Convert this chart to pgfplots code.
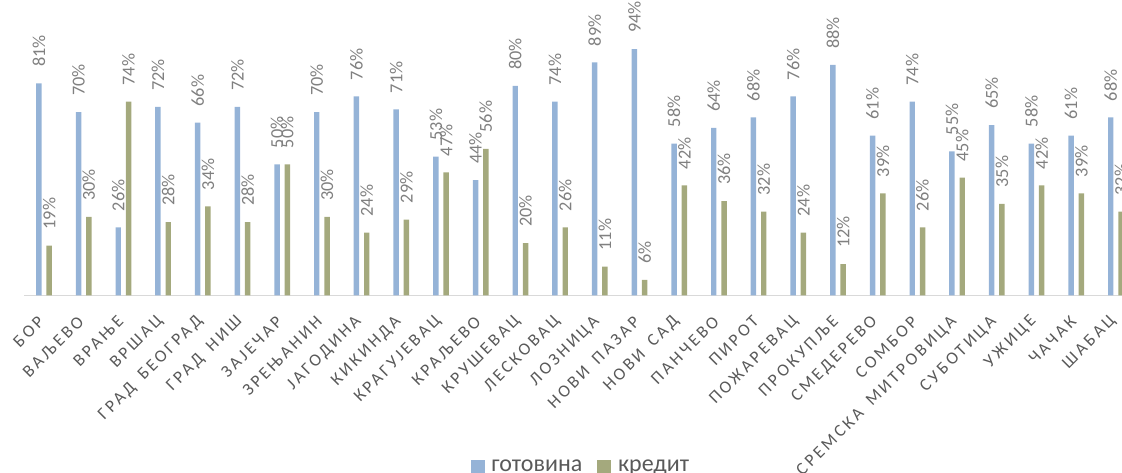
\documentclass[border=0pt]{standalone}
\usepackage{pgfplots}
\usepackage{pgfplotstable}
\pgfplotsset{compat=1.18}
\usepackage{fontspec}
\setmainfont{Carlito}
\newfontfamily\catfont[LetterSpace=17]{Carlito}
\newcommand\wsp{\hspace{8pt}}
\definecolor{bluebar}{HTML}{95B3D7}
\definecolor{greenbar}{HTML}{A4A97D}
\definecolor{labgray}{HTML}{808080}
\definecolor{catgray}{HTML}{595959}
\definecolor{axgray}{HTML}{D9D9D9}
\pgfplotstableread{
x g k
0 81 19
1 70 30
2 26 74
3 72 28
4 66 34
5 72 28
6 50 50
7 70 30
8 76 24
9 71 29
10 53 47
11 44 56
12 80 20
13 74 26
14 89 11
15 94 6
16 58 42
17 64 36
18 68 32
19 76 24
20 88 12
21 61 39
22 74 26
23 55 45
24 65 35
25 58 42
26 61 39
27 68 32
}\data
\begin{document}
\begin{tikzpicture}
\begin{axis}[
  at={(18.11pt,133.13pt)}, anchor=south west,
  scale only axis, width=833.7pt, height=196.5pt,
  xmin=-0.5, xmax=27.5, ymin=0, ymax=100,
  clip=false,
  ybar,
  axis x line*=bottom, axis y line=none,
  x axis line style={draw=axgray, line width=1.1pt},
  ytick=\empty,
  xtick={0,...,27},
  major tick length=0pt,
  xticklabels={БОР,ВАЉЕВО,ВРАЊЕ,ВРШАЦ,ГРАД\wsp БЕОГРАД,ГРАД\wsp НИШ,ЗАЈЕЧАР,ЗРЕЊАНИН,ЈАГОДИНА,КИКИНДА,КРАГУЈЕВАЦ,КРАЉЕВО,КРУШЕВАЦ,ЛЕСКОВАЦ,ЛОЗНИЦА,НОВИ\wsp ПАЗАР,НОВИ\wsp САД,ПАНЧЕВО,ПИРОТ,ПОЖАРЕВАЦ,ПРОКУПЉЕ,СМЕДЕРЕВО,СОМБОР,СРЕМСКА\wsp МИТРОВИЦА,СУБОТИЦА,УЖИЦЕ,ЧАЧАК,ШАБАЦ},
  xticklabel style={font=\catfont\fontsize{13pt}{15pt}\selectfont, text=catgray, inner sep=0pt, yshift=-17.5pt, xshift=-2pt, rotate=45, anchor=east},
  bar width=4.1pt,
  nodes near coords={\pgfmathprintnumber[assume math mode=true]{\pgfplotspointmeta}\%},
  every node near coord/.append style={font=\fontsize{13.7pt}{16pt}\selectfont, text=labgray, yshift=12pt, rotate=90, anchor=west, inner sep=0pt},
  legend columns=2,
  legend style={at={(0.5,-0.655)}, anchor=center, draw=none, fill=none,
    font=\fontsize{18pt}{21pt}\selectfont, text=catgray,
    nodes={inner sep=0pt},
    /tikz/every odd column/.append style={column sep=5pt},
    /tikz/every even column/.append style={column sep=11.25pt}},
]
\addplot[fill=bluebar, draw=none, bar shift=-3.86pt,
  legend image code/.code={\fill[bluebar] (0pt,-5.25pt) rectangle (10.5pt,5.25pt);}]
  table[x=x,y=g]{\data};
\addlegendentry{готовина}
\addplot[fill=greenbar, draw=none, bar shift=3.86pt,
  legend image code/.code={\fill[greenbar] (0pt,-5.25pt) rectangle (10.5pt,5.25pt);}]
  table[x=x,y=k]{\data};
\addlegendentry{кредит}
\end{axis}
\pgfresetboundingbox
\useasboundingbox (0,0) rectangle (841.5pt,354.75pt);
\end{tikzpicture}
\end{document}
